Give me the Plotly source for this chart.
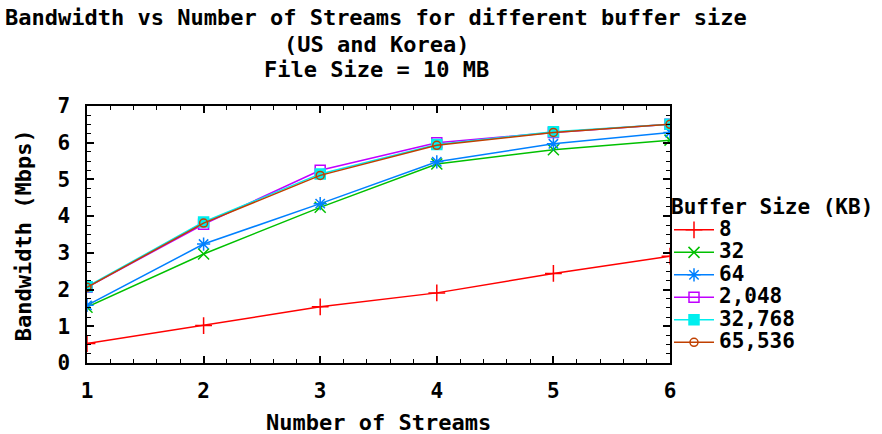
import plotly.graph_objects as go

streams = [1, 2, 3, 4, 5, 6]
buffer_labels = ["8", "32", "64", "2,048", "32,768", "65,536"]
bw_8 = [0.53, 1.02, 1.53, 1.91, 2.44, 2.91]
bw_32 = [1.52, 2.97, 4.24, 5.42, 5.81, 6.07]
bw_64 = [1.57, 3.24, 4.34, 5.48, 5.97, 6.28]
bw_2048 = [2.06, 3.78, 5.25, 6.00, 6.28, 6.50]
bw_32768 = [2.08, 3.84, 5.15, 5.95, 6.30, 6.50]
bw_65536 = [2.06, 3.81, 5.11, 5.93, 6.28, 6.50]

series = [bw_8, bw_32, bw_64, bw_2048, bw_32768, bw_65536]
colors = ["#ff0000", "#00c000", "#0080ff", "#c000ff", "#00eeee", "#c04000"]
symbols = ["cross-thin-open", "x-thin-open", "asterisk-open", "square-open", "square", "circle-open"]
sizes = [12, 11, 11, 10, 10, 8]

FONT = "DejaVu Sans Mono"
FS = 22

fig = go.Figure()
for lab, ys, c, s, sz in zip(buffer_labels, series, colors, symbols, sizes):
    fig.add_trace(go.Scatter(
        x=streams, y=ys,
        name='<span style="font-size:%dpx"><b>%s</b></span>' % (FS - 1, lab),
        mode="lines+markers",
        line=dict(color=c, width=1.5),
        marker=dict(symbol=s, size=sz, color=c, line=dict(color=c, width=1.5)),
    ))

axis_common = dict(
    showline=True, linecolor="black", linewidth=1.5, mirror="ticks",
    ticks="inside", ticklen=7, tickcolor="black", tickwidth=1.5,
    showgrid=False, zeroline=False,
    tickfont=dict(family=FONT, size=FS - 1, color="black"),
)

fig.update_xaxes(
    range=[1, 6], dtick=1, tick0=1,
    minor=dict(ticks="inside", ticklen=4, dtick=0.2, tickcolor="black", tickwidth=1.2),
    tickprefix="<b>", ticksuffix="</b>", ticklabelstandoff=8,
    **axis_common,
)
fig.update_yaxes(
    range=[0, 7], dtick=1, tick0=0,
    minor=dict(ticks="inside", ticklen=4, dtick=0.25, tickcolor="black", tickwidth=1.2),
    tickprefix="<b>", ticksuffix="</b>", ticklabelstandoff=11,
    **axis_common,
)

PX0, PW = 87, 583
PY0, PH = 362.7, 257


def px(xp):
    return (xp - PX0) / PW


def py(yp):
    return (PY0 - yp) / PH


title_lines = ["Bandwidth vs Number of Streams for different buffer size",
               "(US and Korea)",
               "File Size = 10 MB"]
ys_px = [17, 44, 69]
for t, yy in zip(title_lines, ys_px):
    fig.add_annotation(
        text="<b>" + t + "</b>", xref="paper", yref="paper",
        x=px(376), y=py(yy),
        showarrow=False, xanchor="center", yanchor="middle",
        font=dict(family=FONT, size=FS, color="black"),
    )

fig.add_annotation(
    text="<b>Number of Streams</b>", xref="paper", yref="paper",
    x=px(378), y=py(422), showarrow=False, xanchor="center", yanchor="middle",
    font=dict(family=FONT, size=FS, color="black"),
)
fig.add_annotation(
    text="<b>Bandwidth (Mbps)</b>", xref="paper", yref="paper",
    x=px(23), y=py(235), showarrow=False, xanchor="center", yanchor="middle",
    textangle=-90,
    font=dict(family=FONT, size=FS, color="black"),
)

fig.update_layout(
    width=882, height=434,
    margin=dict(l=87, r=212, t=106, b=71, autoexpand=False),
    plot_bgcolor="white", paper_bgcolor="white",
    showlegend=True,
    legend=dict(
        title=dict(text="<b>Buffer Size (KB)</b>", font=dict(family=FONT, size=FS - 1, color="black")),
        x=px(669), xanchor="left", y=py(186), yanchor="top",
        font=dict(family=FONT, size=15, color="black"),
        bgcolor="rgba(0,0,0,0)", itemwidth=40, borderwidth=0,
    ),
)

fig.write_html("out.html")
